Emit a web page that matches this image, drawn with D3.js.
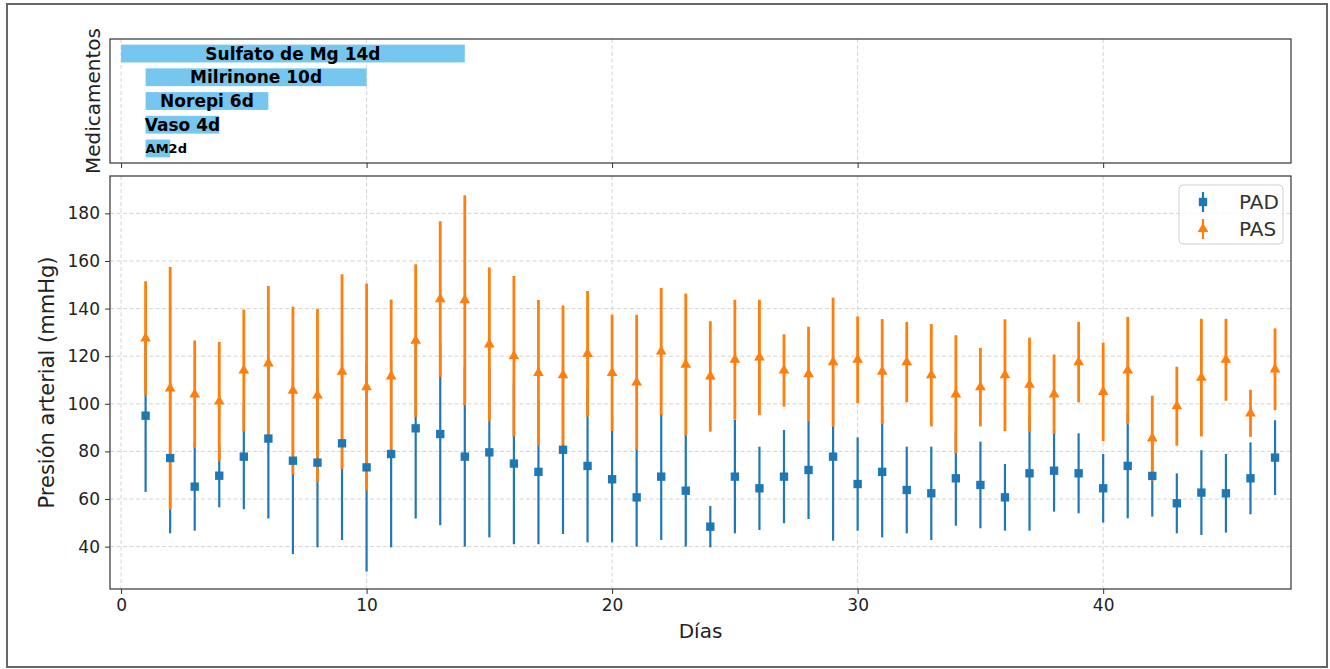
<!DOCTYPE html>
<html>
<head>
<meta charset="utf-8">
<script src="https://cdn.jsdelivr.net/npm/d3@7"></script>
<style>
  body { margin: 0; background: #fff; }
  text { font-family: "DejaVu Sans", sans-serif; }
</style>
</head>
<body>
<svg width="1330" height="669"></svg>
<script>
// medicamentos (top panel)
var drugLabels = ["AM2d", "Vaso 4d", "Norepi 6d", "Milrinone 10d", "Sulfato de Mg 14d"];
var drugStart = [1, 1, 1, 1, 0];
var drugEnd = [2, 4, 6, 10, 14];

// presion arterial por dia (media y desviacion)
var days = [1, 2, 3, 4, 5, 6, 7, 8, 9, 10, 11, 12, 13, 14, 15, 16, 17, 18, 19, 20, 21, 22, 23, 24,
            25, 26, 27, 28, 29, 30, 31, 32, 33, 34, 35, 36, 37, 38, 39, 40, 41, 42, 43, 44, 45, 46, 47];
var padMean = [95, 77.2, 65.2, 69.8, 77.8, 85.4, 76.1, 75.3, 83.4, 73.3, 78.9, 89.7, 87.3, 77.8, 79.6, 74.9,
               71.4, 80.7, 73.9, 68.3, 60.7, 69.4, 63.5, 48.4, 69.4, 64.5, 69.4, 72.2, 77.8, 66.3, 71.4, 63.8,
               62.4, 68.7, 65.9, 60.7, 70.8, 71.9, 70.8, 64.5, 73.9, 69.7, 58.2, 62.7, 62.4, 68.7, 77.4];
var padStd = [32, 31.6, 18.5, 13.3, 22.1, 33.6, 39.2, 35.6, 40.6, 43.8, 39.2, 37.9, 38.3, 37.8, 35.7, 33.9,
              30.4, 35.4, 32.1, 26.5, 20.7, 26.6, 23.5, 8.7, 23.8, 17.5, 19.6, 20.6, 35.3, 19.6, 27.5, 18.2,
              19.6, 19.9, 18.2, 14, 24.1, 17.2, 16.8, 14.4, 22, 17.1, 12.6, 17.8, 16.5, 15.1, 15.7];
var pasMean = [127.5, 106.5, 104, 101, 114, 117, 105.5, 103.5, 113.5, 107, 111.5, 126.5, 144, 143.5, 125, 120,
               113, 112, 121, 113, 109, 122, 116.5, 111.5, 118.5, 119.5, 114, 112.5, 117.5, 118.5, 113.5, 117.5,
               112, 104, 107, 112, 108, 104, 117.5, 105, 114, 85.5, 99, 111, 118.5, 96, 114.5];
var pasStd = [24, 51, 22.6, 25, 25.6, 32.5, 35.3, 36.4, 40.9, 43.5, 32.3, 32.1, 32.7, 44.1, 32.3, 33.7,
              30.6, 29.3, 26.4, 24.4, 28.4, 26.7, 29.8, 23.2, 25.2, 24.2, 15.2, 19.9, 27.1, 18.2, 22.1, 16.9,
              21.5, 24.8, 16.5, 23.5, 19.8, 16.7, 16.9, 20.7, 22.5, 17.9, 16.6, 24.7, 17.2, 9.9, 17.2];
var yTicks = [40, 60, 80, 100, 120, 140, 160, 180];
var xTicks = [0, 10, 20, 30, 40];

var blue = "#1f77b4", orange = "#ff7f0e";

var svg = d3.select("svg");

// outer frame of the figure
svg.append("rect")
    .attr("x", 7).attr("y", 4).attr("width", 1320).attr("height", 663)
    .attr("fill", "none").attr("stroke", "#666").attr("stroke-width", 2);

var left = 110, right = 1291;
var topY0 = 39, topY1 = 163;
var mainY0 = 176, mainY1 = 589;

var x = d3.scaleLinear().domain([-0.45, 47.65]).range([left, right]);
var yTop = d3.scaleLinear().domain([-0.6125, 4.6125]).range([topY1, topY0]);
var y = d3.scaleLinear().domain([22.2, 195.7]).range([mainY1, mainY0]);

function grid(g, lines, vertical, y0, y1) {
  g.selectAll("line.grid" + (vertical ? "x" : "y"))
    .data(lines)
    .enter().append("line")
      .attr("x1", function(d) { return vertical ? x(d) : left; })
      .attr("x2", function(d) { return vertical ? x(d) : right; })
      .attr("y1", function(d) { return vertical ? y0 : y(d); })
      .attr("y2", function(d) { return vertical ? y1 : y(d); })
      .attr("stroke", "#d4d4d4")
      .attr("stroke-width", 1)
      .attr("stroke-dasharray", "4,2.5");
}

// ---- top panel ----
var gTop = svg.append("g");
grid(gTop, xTicks, true, topY0, topY1);

gTop.selectAll("rect.bar")
    .data(drugLabels)
    .enter().append("rect")
      .attr("class", "bar")
      .attr("x", function(d, i) { return x(drugStart[i]); })
      .attr("width", function(d, i) { return x(drugEnd[i]) - x(drugStart[i]); })
      .attr("y", function(d, i) { return yTop(i + 0.375); })
      .attr("height", function(d, i) { return yTop(i - 0.375) - yTop(i + 0.375); })
      .attr("fill", "#76c6ef");

gTop.selectAll("text.bar")
    .data(drugLabels)
    .enter().append("text")
      .attr("x", function(d, i) {
        var dur = drugEnd[i] - drugStart[i];
        return dur < 2 ? x(drugStart[i]) : x((drugStart[i] + drugEnd[i]) / 2);
      })
      .attr("y", function(d, i) { return yTop(i); })
      .attr("dy", "0.36em")
      .attr("text-anchor", function(d, i) { return (drugEnd[i] - drugStart[i]) < 2 ? "start" : "middle"; })
      .style("font-size", function(d, i) { return (drugEnd[i] - drugStart[i]) < 2 ? "13px" : "17px"; })
      .style("font-weight", "bold")
      .style("fill", "#000")
      .text(function(d) { return d; });

gTop.append("g")
    .attr("transform", "translate(0," + topY1 + ")")
    .call(d3.axisBottom(x).tickValues(xTicks).tickSize(5).tickFormat(""))
    .call(function(g) { g.select(".domain").remove(); })
    .selectAll("line").attr("stroke", "#333");

gTop.append("rect")
    .attr("x", left).attr("y", topY0).attr("width", right - left).attr("height", topY1 - topY0)
    .attr("fill", "none").attr("stroke", "#333").attr("stroke-width", 1.2);

svg.append("text")
    .attr("transform", "translate(100," + (topY0 + topY1) / 2 + ") rotate(-90)")
    .attr("text-anchor", "middle")
    .style("font-size", "20px")
    .style("fill", "#222")
    .text("Medicamentos");

// ---- main panel ----
var gMain = svg.append("g");
grid(gMain, xTicks, true, mainY0, mainY1);
grid(gMain, yTicks, false);

var idx = d3.range(days.length);

// error lines first (PAD then PAS), markers on top
gMain.selectAll("line.padErr")
    .data(idx)
    .enter().append("line")
      .attr("x1", function(i) { return x(days[i]); })
      .attr("x2", function(i) { return x(days[i]); })
      .attr("y1", function(i) { return y(padMean[i] - padStd[i]); })
      .attr("y2", function(i) { return y(padMean[i] + padStd[i]); })
      .attr("stroke", blue).attr("stroke-width", 2.2);

gMain.selectAll("line.pasErr")
    .data(idx)
    .enter().append("line")
      .attr("x1", function(i) { return x(days[i]); })
      .attr("x2", function(i) { return x(days[i]); })
      .attr("y1", function(i) { return y(pasMean[i] - pasStd[i]); })
      .attr("y2", function(i) { return y(pasMean[i] + pasStd[i]); })
      .attr("stroke", orange).attr("stroke-width", 2.8);

var sq = d3.symbol().type(d3.symbolSquare).size(70);
var tri = d3.symbol().type(d3.symbolTriangle).size(50);

gMain.selectAll("path.pad")
    .data(idx)
    .enter().append("path")
      .attr("d", sq)
      .attr("transform", function(i) { return "translate(" + x(days[i]) + "," + y(padMean[i]) + ")"; })
      .attr("fill", blue);

gMain.selectAll("path.pas")
    .data(idx)
    .enter().append("path")
      .attr("d", tri)
      .attr("transform", function(i) { return "translate(" + x(days[i]) + "," + y(pasMean[i]) + ")"; })
      .attr("fill", orange);

var yAxis = gMain.append("g")
    .attr("transform", "translate(" + left + ",0)")
    .call(d3.axisLeft(y).tickValues(yTicks).tickSize(5).tickPadding(5));
var xAxis = gMain.append("g")
    .attr("transform", "translate(0," + mainY1 + ")")
    .call(d3.axisBottom(x).tickValues(xTicks).tickSize(5).tickPadding(5));
[xAxis, yAxis].forEach(function(a) {
  a.select(".domain").remove();
  a.selectAll("line").attr("stroke", "#333");
  a.selectAll("text").style("font-size", "17px").style("fill", "#222")
    .style("font-family", "DejaVu Sans, sans-serif");
});

gMain.append("rect")
    .attr("x", left).attr("y", mainY0).attr("width", right - left).attr("height", mainY1 - mainY0)
    .attr("fill", "none").attr("stroke", "#333").attr("stroke-width", 1.2);

svg.append("text")
    .attr("transform", "translate(54," + (mainY0 + mainY1) / 2 + ") rotate(-90)")
    .attr("text-anchor", "middle")
    .style("font-size", "21px")
    .style("fill", "#222")
    .text("Presión arterial (mmHg)");

svg.append("text")
    .attr("x", (left + right) / 2)
    .attr("y", 638)
    .attr("text-anchor", "middle")
    .style("font-size", "20px")
    .style("fill", "#222")
    .text("Días");

// legend
var legend = svg.append("g");
legend.append("rect")
    .attr("x", 1179).attr("y", 185).attr("width", 104).attr("height", 59).attr("rx", 4)
    .attr("fill", "#fff").attr("fill-opacity", 0.8)
    .attr("stroke", "#d0d0d0");
var legItems = [["PAD", blue, sq], ["PAS", orange, tri]];
legItems.forEach(function(it, k) {
  var cy = 202 + k * 27, cx = 1203;
  legend.append("line")
    .attr("x1", cx).attr("x2", cx).attr("y1", cy - 10).attr("y2", cy + 10)
    .attr("stroke", it[1]).attr("stroke-width", 2.2);
  legend.append("path")
    .attr("d", it[2])
    .attr("transform", "translate(" + cx + "," + cy + ")")
    .attr("fill", it[1]);
  legend.append("text")
    .attr("x", 1239).attr("y", cy).attr("dy", "0.36em")
    .style("font-size", "20px").style("fill", "#333")
    .text(it[0]);
});
</script>
</body>
</html>
